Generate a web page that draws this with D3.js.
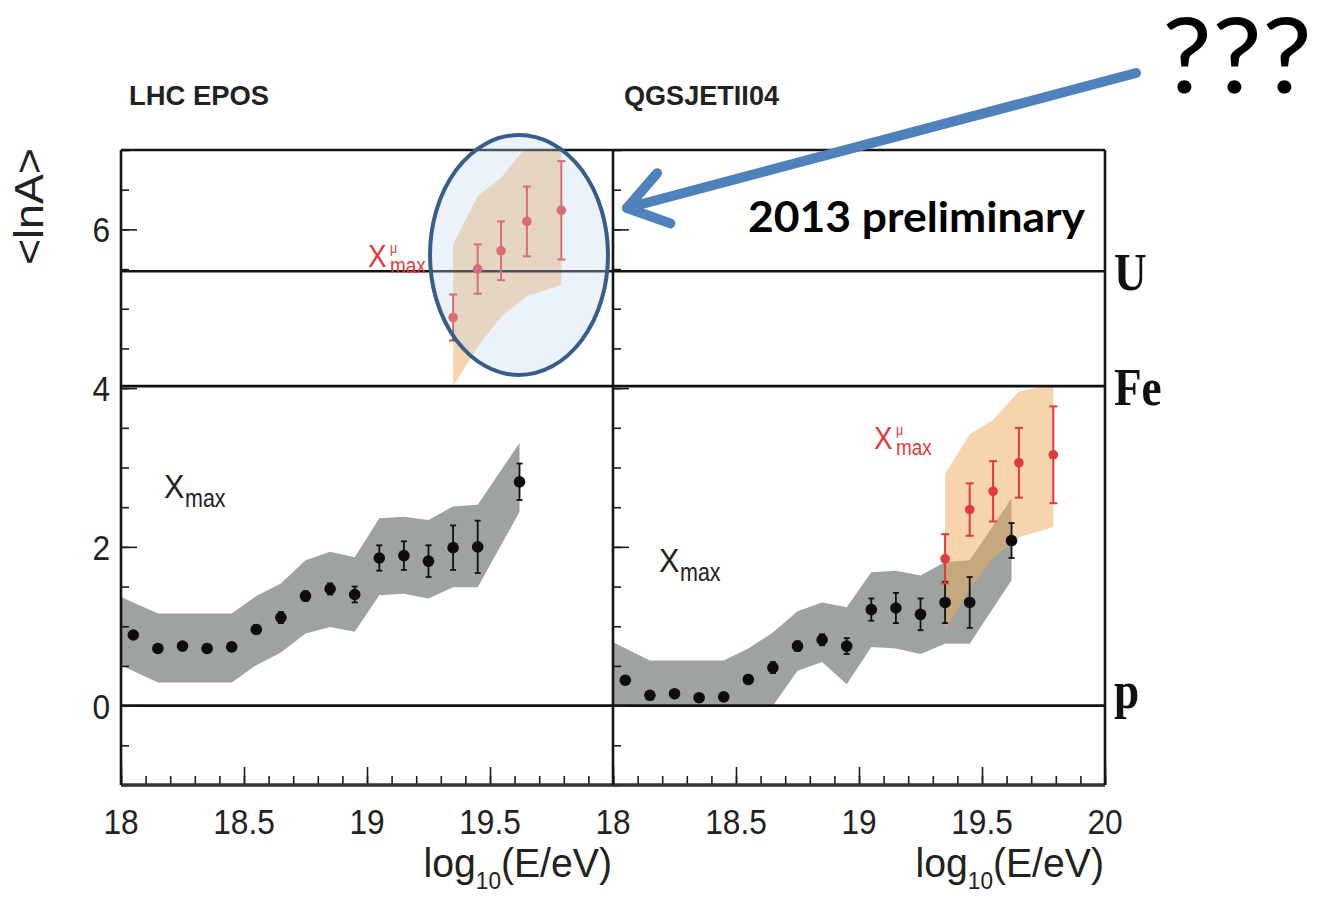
<!DOCTYPE html>
<html>
<head>
<meta charset="utf-8">
<script src="https://cdn.jsdelivr.net/npm/d3@7"></script>
<style>
  html, body { margin: 0; padding: 0; background: #fff; }
  svg { display: block; }
</style>
</head>
<body>
<svg id="chart" width="1317" height="907"></svg>
<script>
// ---- data -------------------------------------------------------------
// log10(E/eV) of the Xmax energy bins (shared by both models)
const energy = [18.05, 18.15, 18.25, 18.35, 18.45, 18.55, 18.65, 18.75, 18.85, 18.95,
                19.05, 19.15, 19.25, 19.35, 19.45, 19.62];

// <lnA> from Xmax, EPOS-LHC
const eposXmax    = [0.89, 0.72, 0.75, 0.72, 0.74, 0.96, 1.11, 1.38, 1.47, 1.40,
                     1.86, 1.89, 1.82, 1.99, 2.00, 2.82];
const eposXmaxErr = [0.04, 0.04, 0.04, 0.04, 0.05, 0.05, 0.07, 0.06, 0.07, 0.10,
                     0.16, 0.18, 0.20, 0.28, 0.33, 0.23];

// <lnA> from Xmax, QGSJetII-04
const qgsXmax     = [0.32, 0.13, 0.15, 0.10, 0.11, 0.33, 0.48, 0.75, 0.83, 0.75,
                     1.21, 1.23, 1.15, 1.30, 1.30, 2.08];
const qgsXmaxErr  = [0.04, 0.04, 0.04, 0.04, 0.05, 0.05, 0.07, 0.06, 0.07, 0.10,
                     0.14, 0.19, 0.20, 0.26, 0.32, 0.22];

// systematic band of the Xmax result
const bandEnergy  = [18.0, 18.15, 18.45, 18.55, 18.65, 18.75, 18.85, 18.95,
                     19.05, 19.15, 19.25, 19.35, 19.45, 19.62];
const eposBandLo  = [0.51, 0.29, 0.29, 0.51, 0.67, 0.91, 0.99, 0.93, 1.39, 1.41, 1.35, 1.49, 1.49, 2.44];
const eposBandHi  = [1.37, 1.16, 1.16, 1.38, 1.54, 1.83, 1.94, 1.87, 2.36, 2.38, 2.34, 2.51, 2.53, 3.31];
const qgsBandLo   = [0.00, 0.00, 0.00, 0.00, 0.00, 0.44, 0.55, 0.27, 0.74, 0.72, 0.65, 0.78, 0.78, 1.58];
const qgsBandHi   = [0.80, 0.57, 0.57, 0.72, 0.92, 1.19, 1.30, 1.24, 1.68, 1.70, 1.64, 1.81, 1.83, 2.61];

// <lnA> from the muon production depth X^mu_max
const muEnergy    = [19.35, 19.45, 19.545, 19.65, 19.79];
const eposXmu     = [4.89, 5.50, 5.73, 6.10, 6.24];
const eposXmuErr  = [0.29, 0.31, 0.37, 0.44, 0.62];
const eposMuLo    = [4.02, 4.52, 4.90, 5.16, 5.30];
const eposMuHi    = [5.81, 6.42, 6.65, 7.05, 7.20];
const qgsXmu      = [1.85, 2.47, 2.70, 3.06, 3.16];
const qgsXmuErr   = [0.31, 0.33, 0.38, 0.44, 0.61];
const qgsMuLo     = [0.95, 1.48, 1.86, 2.12, 2.25];
const qgsMuHi     = [2.92, 3.42, 3.60, 3.96, 4.04];

// reference nuclei
const elements    = ["p", "Fe", "U"];
const massNumbers = [1, 56, 238];

// axes
const xDomain       = [18, 20];
const yDomain       = [-1, 7];
const leftXTicks    = [18, 18.5, 19, 19.5];
const rightXTicks   = [18, 18.5, 19, 19.5, 20];
const yTickLabels   = [0, 2, 4, 6];
const modelNames    = ["LHC EPOS", "QGSJETII04"];

// ---- layout -----------------------------------------------------------
const svg = d3.select("#chart");
const frameTop = 150, frameBottom = 785;
const SANS = "'Liberation Sans', Arial, Helvetica, sans-serif";
const SERIF = "'Liberation Serif', 'Times New Roman', serif";
const INK = "#1c1c1c";
const RED = "#e23a3a";

const y = d3.scaleLinear().domain(yDomain).range([frameBottom, frameTop]);

function txt(parent, str, x, yy, o) {
  let tr = `translate(${x},${yy})`;
  if (o.rotate) tr += ` rotate(${o.rotate})`;
  if (o.sx) tr += ` scale(${o.sx},1)`;
  const t = parent.append("text")
    .attr("transform", tr)
    .attr("font-family", o.family || SANS)
    .attr("font-size", o.size)
    .attr("font-weight", o.weight || "normal")
    .attr("fill", o.fill || INK)
    .attr("text-anchor", o.anchor || "start")
    .text(str);
  if (o.length) t.attr("textLength", o.length).attr("lengthAdjust", "spacingAndGlyphs");
  return t;
}

const panels = [
  { left: 121, right: 613, name: modelNames[0], xTicks: leftXTicks, yLabels: true,
    xmax: eposXmax, xmaxErr: eposXmaxErr, lo: eposBandLo, hi: eposBandHi,
    mu: eposXmu, muErr: eposXmuErr, muLo: eposMuLo, muHi: eposMuHi,
    xmaxLabel: [164, 498], muLabel: [368, 267], nameX: 129 },
  { left: 613, right: 1105, name: modelNames[1], xTicks: rightXTicks, yLabels: false,
    xmax: qgsXmax, xmaxErr: qgsXmaxErr, lo: qgsBandLo, hi: qgsBandHi,
    mu: qgsXmu, muErr: qgsXmuErr, muLo: qgsMuLo, muHi: qgsMuHi,
    xmaxLabel: [659, 572], muLabel: [874, 449], nameX: 624 }
];

const defs = svg.append("defs");

panels.forEach((p, i) => {
  const x = d3.scaleLinear().domain(xDomain).range([p.left, p.right]);
  const clipId = "clip" + i;
  defs.append("clipPath").attr("id", clipId)
    .append("rect").attr("x", p.left).attr("y", frameTop)
    .attr("width", p.right - p.left).attr("height", frameBottom - frameTop);

  const g = svg.append("g");
  const plot = g.append("g").attr("clip-path", `url(#${clipId})`);

  // systematic band of the Xmax result
  const band = bandEnergy.map((e, k) => ({ e, lo: p.lo[k], hi: p.hi[k] }));
  plot.append("path").datum(band)
    .attr("fill", "#9ea39f")
    .attr("d", d3.area().x(d => x(d.e)).y0(d => y(d.lo)).y1(d => y(d.hi)));

  // systematic band of the X^mu_max result
  const muBand = muEnergy.map((e, k) => ({ e, lo: p.muLo[k], hi: p.muHi[k] }));
  plot.append("path").datum(muBand)
    .attr("fill", "rgb(238,172,96)").attr("fill-opacity", 0.52)
    .attr("d", d3.area().x(d => x(d.e)).y0(d => y(d.lo)).y1(d => y(d.hi)));

  // reference nuclei lines
  plot.selectAll("line.ref").data(massNumbers).join("line")
    .attr("x1", p.left).attr("x2", p.right)
    .attr("y1", A => y(Math.log(A))).attr("y2", A => y(Math.log(A)))
    .attr("stroke", "#111").attr("stroke-width", 2.6);

  // Xmax points with statistical errors
  const pts = energy.map((e, k) => ({ e, v: p.xmax[k], err: p.xmaxErr[k] }));
  const eb = plot.append("g").attr("stroke", "#111").attr("stroke-width", 1.8);
  eb.selectAll("line.v").data(pts).join("line")
    .attr("x1", d => x(d.e)).attr("x2", d => x(d.e))
    .attr("y1", d => y(d.v - d.err)).attr("y2", d => y(d.v + d.err));
  [-1, 1].forEach(s => {
    eb.selectAll("line.c" + s).data(pts).join("line")
      .attr("x1", d => x(d.e) - 3).attr("x2", d => x(d.e) + 3)
      .attr("y1", d => y(d.v + s * d.err)).attr("y2", d => y(d.v + s * d.err));
  });
  plot.append("g").selectAll("circle").data(pts).join("circle")
    .attr("cx", d => x(d.e)).attr("cy", d => y(d.v)).attr("r", 5.8)
    .attr("fill", "#0d0d0d");

  // X^mu_max points
  const mpts = muEnergy.map((e, k) => ({ e, v: p.mu[k], err: p.muErr[k] }));
  const meb = plot.append("g").attr("stroke", RED).attr("stroke-width", 2);
  meb.selectAll("line.v").data(mpts).join("line")
    .attr("x1", d => x(d.e)).attr("x2", d => x(d.e))
    .attr("y1", d => y(d.v - d.err)).attr("y2", d => y(d.v + d.err));
  [-1, 1].forEach(s => {
    meb.selectAll("line.c" + s).data(mpts).join("line")
      .attr("x1", d => x(d.e) - 4).attr("x2", d => x(d.e) + 4)
      .attr("y1", d => y(d.v + s * d.err)).attr("y2", d => y(d.v + s * d.err));
  });
  plot.append("g").selectAll("circle").data(mpts).join("circle")
    .attr("cx", d => x(d.e)).attr("cy", d => y(d.v)).attr("r", 4.8)
    .attr("fill", RED);

  // ticks: x on the bottom edge, y on the left edge, all pointing inwards
  const axisStyle = sel => { sel.select(".domain").remove(); sel.selectAll("line").attr("stroke", INK).attr("stroke-width", 1.6); sel.selectAll("text").remove(); };
  g.append("g").attr("transform", `translate(0,${frameBottom})`)
    .call(d3.axisBottom(x).tickValues(x.ticks(20)).tickSize(-9)).call(axisStyle);
  g.append("g").attr("transform", `translate(0,${frameBottom})`)
    .call(d3.axisBottom(x).tickValues(p.xTicks).tickSize(-18)).call(axisStyle);
  g.append("g").attr("transform", `translate(${p.left},0)`)
    .call(d3.axisRight(y).tickValues(y.ticks(16)).tickSize(8)).call(axisStyle);
  g.append("g").attr("transform", `translate(${p.left},0)`)
    .call(d3.axisRight(y).tickValues(yTickLabels).tickSize(16)).call(axisStyle);

  // tick labels
  p.xTicks.forEach(v => txt(g, String(v), x(v), 834, { size: 36, sx: 0.88, anchor: "middle", fill: "#222" }));
  if (p.yLabels) {
    yTickLabels.forEach(v => txt(g, String(v), 110, y(v) + 13, { size: 36, sx: 0.88, anchor: "end", fill: "#222" }));
  }

  // axis title, right aligned at the end of the axis
  const title = g.append("text")
    .attr("transform", `translate(${p.right - 1},877) scale(0.98,1)`)
    .attr("font-family", SANS).attr("font-size", 40).attr("fill", "#222")
    .attr("text-anchor", "end");
  title.append("tspan").text("log");
  title.append("tspan").attr("dy", 12).attr("font-size", 23).text("10");
  title.append("tspan").attr("dy", -12).text("(E/eV)");

  // model name
  txt(g, p.name, p.nameX, 105, { size: 28, weight: "bold", length: p.name.length > 8 ? 155 : 140, fill: "#222" });

  // Xmax label
  const [lx, ly] = p.xmaxLabel;
  txt(g, "X", lx, ly, { size: 34, sx: 0.9, fill: "#222" });
  txt(g, "max", lx + 21, ly + 9, { size: 25, sx: 0.86, fill: "#222" });

  // X^mu_max label
  const [mx, my] = p.muLabel;
  txt(g, "X", mx, my, { size: 31, sx: 0.9, fill: RED });
  txt(g, "\u03bc", mx + 22, my - 14, { size: 14, sx: 0.9, fill: RED });
  txt(g, "max", mx + 22, my + 6, { size: 22, sx: 0.86, fill: RED });
});

// frame
const frame = svg.append("g").attr("stroke", "#151515").attr("stroke-width", 2.6).attr("fill", "none");
frame.append("line").attr("x1", 121).attr("x2", 1105).attr("y1", frameTop).attr("y2", frameTop);
frame.append("line").attr("x1", 121).attr("x2", 1105).attr("y1", frameBottom).attr("y2", frameBottom).attr("stroke-width", 3.4).attr("stroke", "#333");
[121, 613, 1105].forEach(xx =>
  frame.append("line").attr("x1", xx).attr("x2", xx).attr("y1", frameTop).attr("y2", frameBottom));

// y axis title, right aligned at the top of the axis
txt(svg, "<lnA>", 43, 148, { size: 40, rotate: -90, sx: 1.12, anchor: "end", fill: "#222" });

// nuclei labels on the right
elements.forEach((el, k) => {
  const yy = y(Math.log(massNumbers[k]));
  txt(svg, el, 1114, yy + (el === "p" ? 2 : 18.5), { size: 52, sx: 0.87, family: SERIF, weight: "bold", fill: "#111" });
});

// ---- annotations ------------------------------------------------------
svg.append("ellipse")
  .attr("cx", 519).attr("cy", 255).attr("rx", 89).attr("ry", 120)
  .attr("fill", "#c6d9f1").attr("fill-opacity", 0.33)
  .attr("stroke", "#385d8a").attr("stroke-width", 4);

const tail = [1136, 73], tip = [627, 208];
const ang = Math.atan2(tail[1] - tip[1], tail[0] - tip[0]);
const armLen = 46, spread = 0.6;
const arrow = svg.append("g").attr("stroke", "#4f81bd").attr("stroke-width", 10)
  .attr("stroke-linecap", "round").attr("stroke-linejoin", "round").attr("fill", "none");
arrow.append("line").attr("x1", tail[0]).attr("y1", tail[1]).attr("x2", tip[0]).attr("y2", tip[1]);
arrow.append("polyline").attr("points", [
  [tip[0] + armLen * Math.cos(ang - spread), tip[1] + armLen * Math.sin(ang - spread)],
  tip,
  [tip[0] + armLen * Math.cos(ang + spread), tip[1] + armLen * Math.sin(ang + spread)]
].map(q => q.join(",")).join(" "));

txt(svg, "???", 1162, 93, { size: 104, family: "Lato, 'Open Sans', sans-serif", fill: "#000", length: 150 });
txt(svg, "2013 preliminary", 748, 232, { size: 42, family: "Lato, 'Open Sans', sans-serif", weight: "bold", fill: "#000", length: 337 });
</script>
</body>
</html>
